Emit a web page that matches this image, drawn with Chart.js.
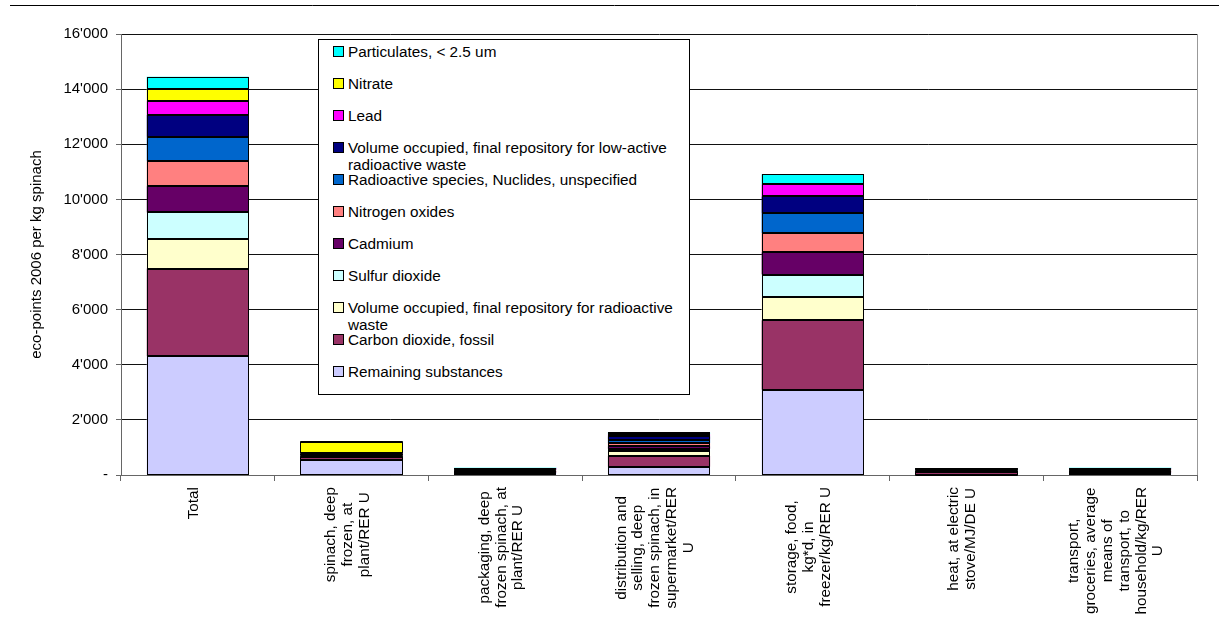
<!DOCTYPE html>
<html>
<head>
<meta charset="utf-8">
<script src="https://cdn.jsdelivr.net/npm/chart.js@4"></script>
<style>
  html, body { margin: 0; padding: 0; background: #fff; }
  #wrap { position: relative; width: 1219px; height: 633px; font-family: Arial, "Liberation Sans", sans-serif; }
  #legend {
    position: absolute; left: 318px; top: 39px; width: 372px; height: 356px;
    background: #fff; border: 1px solid #000; box-sizing: border-box;
  }
  .item { position: absolute; left: 14px; width: 355px; font-size: 15.3px; line-height: 17px; color: #000; }
  .item .box { position: absolute; left: 0; top: 3px; width: 9px; height: 9px; border: 1px solid #000; }
  .item .txt { margin-left: 15px; }
</style>
</head>
<body>
<div id="wrap">
  <canvas id="bar-chart" width="1219" height="633"></canvas>
  <div id="legend"></div>
</div>
<script>
// categories (multi-line labels, drawn rotated under the axis)
const categories = [
    ["Total"],
    ["spinach, deep", "frozen, at", "plant/RER U"],
    ["packaging, deep", "frozen spinach, at", "plant/RER U"],
    ["distribution and", "selling, deep", "frozen spinach, in", "supermarket/RER", "U"],
    ["storage, food,", "kg*d, in", "freezer/kg/RER U"],
    ["heat, at electric", "stove/MJ/DE U"],
    ["transport,", "groceries, average", "means of", "transport, to", "household/kg/RER", "U"]
];

// eco-points per substance, stacked bottom to top
const remaining          = [4315, 560, 90, 300, 3095, 15, 90];
const carbonDioxide      = [3175, 100, 50, 400, 2517, 80, 50];
const volRadioactive     = [1064, 15, 20, 155, 861, 35, 15];
const sulfurDioxide      = [970, 20, 15, 100, 799, 15, 15];
const cadmium            = [955, 40, 15, 85, 810, 10, 10];
const nitrogenOxides     = [908, 25, 15, 120, 701, 10, 30];
const radioactiveSpecies = [883, 10, 20, 120, 705, 40, 15];
const volLowActive       = [788, 10, 15, 130, 617, 30, 10];
const lead               = [520, 10, 10, 65, 436, 5, 10];
const nitrate            = [425, 420, 5, 10, 0, 0, 0];
const particulates       = [447, 20, 10, 60, 374, 5, 15];

const yTicks = [0, 2000, 4000, 6000, 8000, 10000, 12000, 14000, 16000];

const series = [
    ["Remaining substances", remaining, "#CCCCFF"],
    ["Carbon dioxide, fossil", carbonDioxide, "#993366"],
    ["Volume occupied, final repository for radioactive waste", volRadioactive, "#FFFFCC"],
    ["Sulfur dioxide", sulfurDioxide, "#CCFFFF"],
    ["Cadmium", cadmium, "#660066"],
    ["Nitrogen oxides", nitrogenOxides, "#FF8080"],
    ["Radioactive species, Nuclides, unspecified", radioactiveSpecies, "#0066CC"],
    ["Volume occupied, final repository for low-active radioactive waste", volLowActive, "#000080"],
    ["Lead", lead, "#FF00FF"],
    ["Nitrate", nitrate, "#FFFF00"],
    ["Particulates, < 2.5 um", particulates, "#00FFFF"]
];

const FONT = 'Arial, "Liberation Sans", sans-serif';

let datasets = series.map(s => ({
    label: s[0],
    data: s[1],
    backgroundColor: s[2],
    borderWidth: 0,
    barPercentage: 0.665,
    categoryPercentage: 1
}));

// legend, top entry = top of the stack
const legend = document.getElementById('legend');
series.slice().reverse().forEach((s, k) => {
    const it = document.createElement('div');
    it.className = 'item';
    it.style.top = (3 + k * 32) + 'px';
    it.innerHTML = '<span class="box" style="background:' + s[2] + '"></span><div class="txt"></div>';
    it.querySelector('.txt').textContent = s[0];
    legend.appendChild(it);
});

function fmt(v) {
    if (v === 0) return '-';
    return String(v).replace(/\B(?=(\d{3})+(?!\d))/g, "'");
}

// full 1px outline round every segment, even the very thin ones
const outlines = {
    id: 'outlines',
    afterDatasetsDraw(chart) {
        const ctx = chart.ctx;
        ctx.save();
        ctx.strokeStyle = '#000';
        ctx.lineWidth = 1;
        chart.data.datasets.forEach((ds, d) => {
            chart.getDatasetMeta(d).data.forEach((bar, i) => {
                if (!ds.data[i]) return;
                const p = bar.getProps(['x', 'y', 'base', 'width'], true);
                const l = Math.round(p.x - p.width / 2) + 0.5;
                const r = Math.round(p.x + p.width / 2) - 0.5;
                const t = Math.round(Math.min(p.y, p.base)) + 0.5;
                const b = Math.round(Math.max(p.y, p.base)) - 0.5;
                ctx.strokeRect(l, t, r - l, Math.max(b - t, 0));
            });
        });
        ctx.restore();
    }
};

const extras = {
    id: 'extras',
    afterDraw(chart) {
        const ctx = chart.ctx;
        const area = chart.chartArea;
        const xs = chart.scales.x;
        ctx.save();
        // page rule at the top
        ctx.strokeStyle = '#000';
        ctx.lineWidth = 1;
        ctx.beginPath();
        ctx.moveTo(10, 5.5);
        ctx.lineTo(1219, 5.5);
        ctx.stroke();
        // right edge of plot
        ctx.strokeStyle = '#999';
        ctx.beginPath();
        ctx.moveTo(Math.round(area.right) + 0.5, area.top);
        ctx.lineTo(Math.round(area.right) + 0.5, area.bottom);
        ctx.stroke();
        // rotated category labels
        ctx.fillStyle = '#000';
        ctx.font = '15.3px ' + FONT;
        ctx.textBaseline = 'middle';
        ctx.textAlign = 'center';
        const lh = 16.8;
        categories.forEach((lines, i) => {
            const x = xs.getPixelForValue(i);
            const w = Math.max(...lines.map(l => ctx.measureText(l).width));
            ctx.save();
            ctx.translate(x - 4, area.bottom + 12);
            ctx.rotate(-Math.PI / 2);
            lines.forEach((l, k) => {
                ctx.fillText(l, -w / 2, (k - (lines.length - 1) / 2) * lh);
            });
            ctx.restore();
        });
        ctx.restore();
    }
};

let ctx = document.getElementById('bar-chart').getContext('2d');

let barChart = new Chart(ctx, {
    type: 'bar',
    data: { labels: categories.map(c => c.join(' ')), datasets: datasets },
    options: {
        responsive: false,
        animation: false,
        layout: { padding: { left: 28, top: 34, right: 22, bottom: 0 } },
        plugins: { legend: { display: false }, tooltip: { enabled: false } },
        scales: {
            x: {
                stacked: true,
                ticks: { display: false },
                grid: { offset: true, drawOnChartArea: false, drawTicks: true, tickLength: 6, color: '#666' },
                border: { color: '#666' },
                afterFit(scale) { scale.height = 158; }
            },
            y: {
                stacked: true,
                min: 0,
                max: 16000,
                afterBuildTicks(scale) { scale.ticks = yTicks.map(v => ({ value: v })); },
                ticks: {
                    padding: 8,
                    color: '#000',
                    font: { family: FONT, size: 15 },
                    callback: v => fmt(v)
                },
                grid: { color: '#111', tickLength: 5, tickColor: '#666' },
                border: { color: '#666' },
                title: {
                    display: true,
                    text: 'eco-points 2006 per kg spinach',
                    color: '#000',
                    font: { family: FONT, size: 15 },
                    padding: 0
                },
                afterFit(scale) { scale.width = 93; }
            }
        }
    },
    plugins: [outlines, extras]
});
</script>
</body>
</html>
